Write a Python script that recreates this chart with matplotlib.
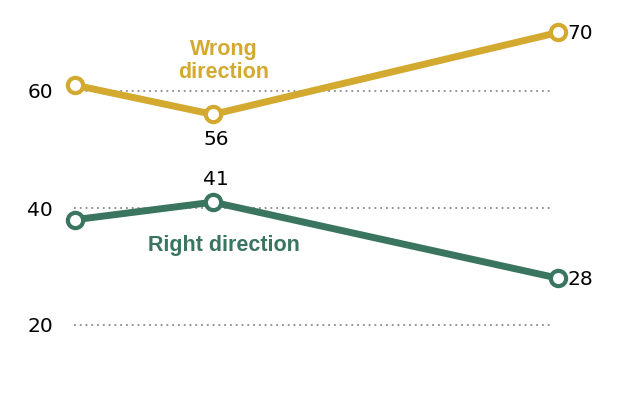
import matplotlib
matplotlib.use("Agg")
import matplotlib.pyplot as plt

# Data
x_pos = [0, 2, 7]
wrong = [61, 56, 70]
right = [38, 41, 28]
yticks = [20, 40, 60]
ytick_labels = ["20", "40", "60"]

gold = "#D3A92F"
green = "#3A7560"

W, H = 620, 411
fig = plt.figure(figsize=(W / 100, H / 100), dpi=100)
# pixel mapping: x=0 -> 75px, 69 px/unit ; y=60 -> 91px, 5.85 px/unit
left_px = 62
ax = fig.add_axes([left_px / W, 0, 1 - left_px / W, 1])
ax.set_xlim((left_px - 75) / 69, (W - 75) / 69)
ax.set_ylim(60 - (H - 91) / 5.85, 60 + 91 / 5.85)

for s in ax.spines.values():
    s.set_visible(False)
ax.set_xticks([])
ax.set_yticks(yticks)
ax.set_yticklabels(ytick_labels, fontfamily=["DejaVu Sans"], fontsize=14.5)
ax.tick_params(axis="y", length=0, pad=6.5)

ax.hlines(yticks, -0.01, 6.93, colors="#8a8a8a", linestyles=(0, (1, 2.2)), linewidth=1.3, zorder=1)

common = dict(linewidth=5, marker="o", markersize=11, markerfacecolor="white",
              markeredgewidth=3, solid_capstyle="round", clip_on=False, zorder=3)
ax.plot(x_pos, wrong, color=gold, markeredgecolor=gold, **common)
ax.plot(x_pos, right, color=green, markeredgecolor=green, **common)

num_font = dict(fontfamily=["DejaVu Sans"], fontsize=14.5, color="black")
ax.annotate(str(wrong[1]), (x_pos[1], wrong[1]), xytext=(2, -18), textcoords="offset points",
            ha="center", va="center", **num_font)
ax.annotate(str(right[1]), (x_pos[1], right[1]), xytext=(2, 16), textcoords="offset points",
            ha="center", va="center", **num_font)
ax.annotate(str(wrong[2]), (x_pos[2], wrong[2]), xytext=(7, -1), textcoords="offset points",
            ha="left", va="center", **num_font)
ax.annotate(str(right[2]), (x_pos[2], right[2]), xytext=(7, -1), textcoords="offset points",
            ha="left", va="center", **num_font)

lab_font = dict(fontfamily=["Liberation Sans Narrow", "Liberation Sans", "DejaVu Sans"],
                fontweight="bold", fontsize=15.5)
ax.text((224 - 75) / 69, 60 + (91 - 61) / 5.85, "Wrong\ndirection", color=gold,
        ha="center", va="center", linespacing=1.15, **lab_font)
ax.text((224 - 75) / 69, 40 - (246 - 208) / 5.85, "Right direction", color=green,
        ha="center", va="center", **lab_font)

fig.savefig("out.png", dpi=100)
